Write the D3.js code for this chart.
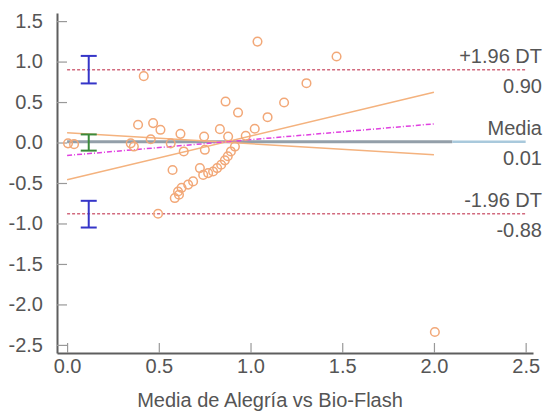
<!DOCTYPE html>
<html lang="es">
<head>
<meta charset="UTF-8">
<title>Bland-Altman: Alegría vs Bio-Flash</title>
<style>
  body { margin: 0; background: #fff; }
  svg text { font-family: "Liberation Sans", Arial, sans-serif; fill: #555; }
</style>
</head>
<body>
<div id="chart"></div>
<script src="https://cdnjs.cloudflare.com/ajax/libs/d3/7.8.5/d3.min.js"></script>
<script>
// points: mean of the two methods vs their difference
var meanVals = [0.005, 0.038, 0.347, 0.364, 0.387, 0.469, 0.509, 0.456, 0.418, 0.496,
  0.575, 0.565, 0.618, 0.636, 0.747, 0.751, 0.724, 0.833, 0.878, 0.974,
  0.864, 0.932, 1.023, 1.038, 1.093, 1.183, 1.305, 1.469, 2.005,
  0.915, 0.893, 0.876, 0.86, 0.84, 0.818, 0.796, 0.769, 0.742, 0.687,
  0.66, 0.624, 0.605, 0.587, 0.61];
var diffVals = [-0.01, -0.02, -0.01, -0.05, 0.22, 0.24, 0.157, 0.04, 0.82, -0.88,
  -0.34, -0.01, 0.107, -0.11, 0.074, -0.09, -0.316, 0.165, 0.074, 0.083,
  0.506, 0.37, 0.17, 1.247, 0.313, 0.494, 0.733, 1.062, -2.34,
  -0.05, -0.11, -0.17, -0.22, -0.275, -0.316, -0.358, -0.378, -0.40, -0.48,
  -0.52, -0.56, -0.605, -0.686, -0.645];

var xTicks = [0, 0.5, 1.0, 1.5, 2.0, 2.5];
var yTicks = [-2.5, -2.0, -1.5, -1.0, -0.5, 0.0, 0.5, 1.0, 1.5];

// limits of agreement
var limitNames = ["+1.96 DT", "Media", "-1.96 DT"];
var limitVals = [0.90, 0.01, -0.88];

// regression of difference on mean, and the two orange lines
var regLine = [[0, -0.16], [2.0, 0.23]];
var orangeA = [[0, 0.12], [2.0, -0.15]];
var orangeB = [[0, -0.46], [2.0, 0.62]];

// confidence intervals drawn as error bars at x = 0.118
var ciX = 0.118;
var ciLow = [0.73, -0.10, -1.05];
var ciHigh = [1.07, 0.10, -0.72];
var ciColors = ["#3535c8", "#3a8a3a", "#3535c8"];

var width = 544, height = 413;

var svg = d3.select("#chart").append("svg")
  .attr("width", width)
  .attr("height", height);

var x = d3.scaleLinear().domain([-0.055, 2.54]).range([57, 533]);
var y = d3.scaleLinear().domain([-2.6, 1.6]).range([353, 13]);

var fmt = function (v) { return v.toFixed(1); };

// axes
var gx = svg.append("g")
  .attr("transform", "translate(0,353)")
  .call(d3.axisBottom(x).tickValues(xTicks).tickFormat(fmt)
    .tickSizeInner(-10).tickSizeOuter(0).tickPadding(6));
var gy = svg.append("g")
  .attr("transform", "translate(57,0)")
  .call(d3.axisLeft(y).tickValues(yTicks).tickFormat(fmt)
    .tickSizeInner(-10).tickSizeOuter(0).tickPadding(14));

[gx, gy].forEach(function (g) {
  g.select(".domain").attr("stroke", "#5e5e5e").attr("stroke-width", 2);
  g.selectAll(".tick line").attr("stroke", "#999").attr("stroke-width", 1.2);
  g.selectAll(".tick text").attr("font-size", 20).attr("fill", "#555")
    .style("font-family", "'Liberation Sans', Arial, sans-serif");
});

svg.append("text")
  .attr("x", 270).attr("y", 407)
  .attr("text-anchor", "middle")
  .attr("font-size", 20)
  .text("Media de Alegría vs Bio-Flash");

var line = d3.line()
  .x(function (d) { return x(d[0]); })
  .y(function (d) { return y(d[1]); });

// mean line (gray then light blue at the end)
svg.append("path")
  .attr("d", line([[0, limitVals[1]], [2.1, limitVals[1]]]))
  .attr("stroke", "#939fa9").attr("stroke-width", 3).attr("fill", "none");
svg.append("path")
  .attr("d", line([[2.1, limitVals[1]], [2.5, limitVals[1]]]))
  .attr("stroke", "#a9c9dc").attr("stroke-width", 2.5).attr("fill", "none");

// +-1.96 DT dashed lines
[limitVals[0], limitVals[2]].forEach(function (v) {
  svg.append("path")
    .attr("d", line([[0, v], [2.5, v]]))
    .attr("stroke", "#d26a7e").attr("stroke-width", 1.5)
    .attr("stroke-dasharray", "3,2").attr("fill", "none");
});

// orange lines
[orangeA, orangeB].forEach(function (l) {
  svg.append("path")
    .attr("d", line(l))
    .attr("stroke", "#f4b27e").attr("stroke-width", 1.5).attr("fill", "none");
});

// regression line
svg.append("path")
  .attr("d", line(regLine))
  .attr("stroke", "#e040e0").attr("stroke-width", 1.5)
  .attr("stroke-dasharray", "5,2,1,2").attr("fill", "none");

// points
svg.append("g").selectAll("circle")
  .data(meanVals.map(function (m, i) { return [m, diffVals[i]]; }))
  .enter().append("circle")
  .attr("cx", function (d) { return x(d[0]); })
  .attr("cy", function (d) { return y(d[1]); })
  .attr("r", 4.3)
  .attr("fill", "none")
  .attr("stroke", "#f2a878")
  .attr("stroke-width", 1.5);

// error bars
ciLow.forEach(function (lo, i) {
  var g = svg.append("g").attr("stroke", ciColors[i]).attr("stroke-width", 2);
  var cx = x(ciX);
  g.append("line").attr("x1", cx).attr("x2", cx).attr("y1", y(lo)).attr("y2", y(ciHigh[i]));
  g.append("line").attr("x1", cx - 8).attr("x2", cx + 8).attr("y1", y(lo)).attr("y2", y(lo));
  g.append("line").attr("x1", cx - 8).attr("x2", cx + 8).attr("y1", y(ciHigh[i])).attr("y2", y(ciHigh[i]));
});

// right labels
limitNames.forEach(function (name, i) {
  var yy = y(limitVals[i]);
  svg.append("text")
    .attr("x", 542).attr("y", yy - 7)
    .attr("text-anchor", "end").attr("font-size", 20)
    .text(name);
  svg.append("text")
    .attr("x", 542).attr("y", yy + 23)
    .attr("text-anchor", "end").attr("font-size", 20)
    .text(limitVals[i].toFixed(2));
});
</script>
</body>
</html>
